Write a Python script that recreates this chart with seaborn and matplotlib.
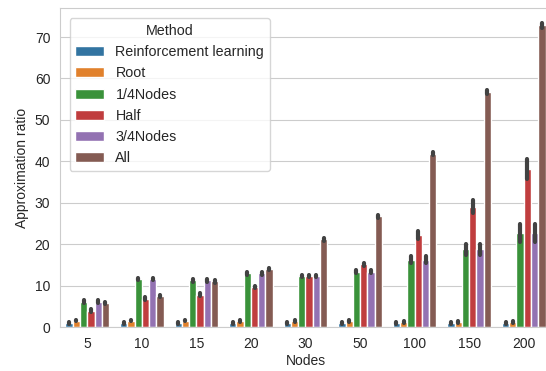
import numpy as np
import pandas as pd
import matplotlib.pyplot as plt
import seaborn as sns

nodes = ['5', '10', '15', '20', '30', '50', '100', '150', '200']
methods = ['Reinforcement learning', 'Root', '1/4Nodes', 'Half', '3/4Nodes', 'All']

# mean approximation ratio per method, per node count
mean_rl = [1.0, 1.0, 1.0, 1.0, 1.0, 1.0, 1.0, 1.0, 1.0]
mean_root = [1.6, 1.6, 1.6, 1.5, 1.5, 1.5, 1.3, 1.3, 1.3]
mean_q1 = [6.2, 11.7, 11.3, 13.0, 12.4, 13.4, 16.3, 18.8, 22.8]
mean_half = [4.0, 6.9, 7.9, 9.7, 12.4, 15.2, 22.2, 29.1, 38.2]
mean_q3 = [6.2, 11.7, 11.3, 13.0, 12.4, 13.4, 16.3, 18.8, 22.7]
mean_all = [5.8, 7.5, 11.1, 14.0, 21.2, 26.8, 41.9, 56.7, 72.8]

# half-width of the error bars
err_rl = [0.2, 0.2, 0.2, 0.2, 0.2, 0.2, 0.2, 0.2, 0.2]
err_root = [0.2, 0.2, 0.2, 0.2, 0.2, 0.2, 0.2, 0.2, 0.2]
err_q1 = [0.3, 0.3, 0.3, 0.3, 0.3, 0.3, 0.8, 1.4, 2.2]
err_half = [0.3, 0.3, 0.3, 0.3, 0.3, 0.4, 1.0, 1.6, 2.5]
err_q3 = [0.3, 0.3, 0.3, 0.3, 0.3, 0.3, 0.8, 1.4, 2.2]
err_all = [0.3, 0.3, 0.3, 0.3, 0.3, 0.4, 0.4, 0.5, 0.6]

means = [mean_rl, mean_root, mean_q1, mean_half, mean_q3, mean_all]
errs = [err_rl, err_root, err_q1, err_half, err_q3, err_all]

# two samples per bar (mean - err, mean + err) so the 100% interval spans the error
rows = []
for m, mv, ev in zip(methods, means, errs):
    for n, mu, e in zip(nodes, mv, ev):
        rows.append({'Nodes': n, 'Method': m, 'Approximation ratio': mu - e})
        rows.append({'Nodes': n, 'Method': m, 'Approximation ratio': mu + e})
df = pd.DataFrame(rows)

sns.set_style('whitegrid')
plt.rcParams['font.family'] = ['Liberation Sans', 'DejaVu Sans']

fig = plt.figure(figsize=(5.46, 3.71), dpi=100)
# the original is cropped on the right, so the axes run past the figure edge
ax = fig.add_axes([60 / 546, 1 - 327.3 / 371, 491 / 546, 319.3 / 371])
sns.barplot(data=df, x='Nodes', y='Approximation ratio', hue='Method',
            order=nodes, hue_order=methods, errorbar=('pi', 100),
            err_kws={'solid_capstyle': 'round', 'linewidth': 3}, ax=ax)

ax.set_ylim(0, 77)
ax.set_xlabel('Nodes', fontsize=10, labelpad=2.5)
ax.set_ylabel('Approximation ratio', fontsize=10, labelpad=4)
ax.tick_params(labelsize=10)
ax.legend(title='Method', loc='upper left', fontsize=10.3, title_fontsize=10.3,
          bbox_to_anchor=(0.005, 0.99))

plt.savefig('out.png', dpi=100)
